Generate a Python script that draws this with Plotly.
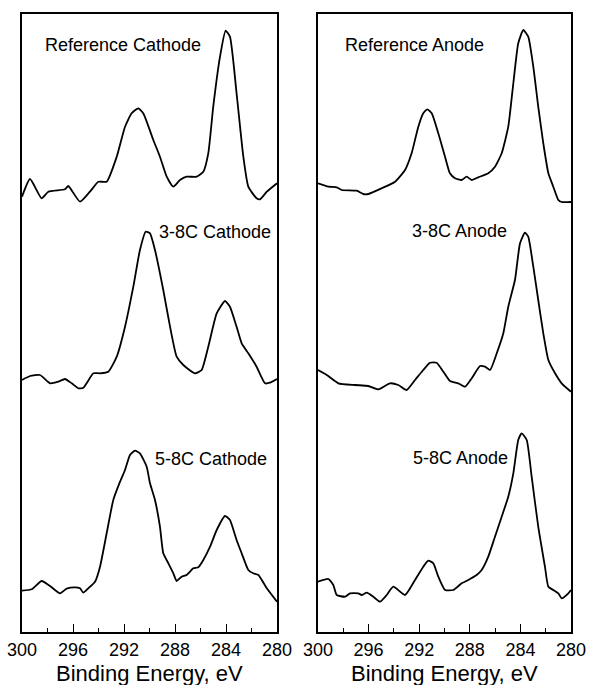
import plotly.graph_objects as go

# ---------------- data (binding energy in eV, intensity in arbitrary units) -------------
ref_cat_x = [300.0, 299.37, 298.46, 297.93, 296.63, 296.37, 295.45, 294.67, 294.01, 293.36,
             292.57, 291.92, 291.4, 290.88, 290.49, 289.7, 289.18, 288.65, 288.13, 287.61,
             287.09, 286.3, 285.78, 285.39, 285.0, 284.47, 284.03, 283.69, 283.17, 282.64,
             282.25, 281.6, 281.33, 280.8, 280.0]
ref_cat_y = [5.3, 23, 3.7, 10.3, 12.7, 16, 0.3, 10.3, 20.3, 20.3,
             45.3, 75.3, 88.7, 93.7, 88.7, 62, 45.3, 25.3, 15.3, 22,
             25.3, 25.3, 30.3, 48.7, 95.3, 145.3, 171.3, 165.3, 108.7, 45.3,
             15.3, 3.7, 2.7, 10.3, 18.7]

c38_cat_x = [300.0, 299.37, 298.59, 297.8, 297.15, 296.63, 296.1, 295.58, 295.19, 294.4,
             293.88, 293.23, 292.57, 291.92, 291.27, 290.75, 290.3, 289.96, 289.57, 288.92,
             288.39, 287.87, 287.35, 286.43, 285.91, 285.39, 284.73, 284.08, 283.69, 283.17,
             282.77, 282.25, 281.6, 280.94, 280.55, 280.0]
c38_cat_y = [12, 16, 17, 8.7, 10.3, 13, 8.7, 3.7, 4.3, 18.7,
             18.7, 20.3, 35.3, 65.3, 105.3, 142, 160.3, 158.7, 142, 102,
             65.3, 35.3, 27, 18.7, 22, 45.3, 78.7, 91, 85.3, 65.3,
             48.7, 38.7, 25.3, 8.7, 9.3, 13]

c58_cat_x = [300.0, 299.24, 298.46, 297.8, 297.02, 296.5, 295.84, 295.45, 295.19, 294.8,
             294.27, 293.88, 293.36, 292.84, 292.31, 291.92, 291.53, 291.14, 290.75, 290.22,
             289.96, 289.57, 289.18, 288.92, 288.52, 288.13, 287.87, 287.48, 287.09, 286.56,
             286.17, 285.78, 285.25, 284.73, 284.08, 283.69, 283.17, 282.77, 282.25, 281.86,
             281.46, 280.8, 280.0]
c58_cat_y = [11.3, 12.7, 21, 16, 8.7, 13.3, 14.7, 13.7, 9.3, 13.7,
             20.3, 35.3, 68.7, 102, 120.3, 132, 147, 151.3, 148.7, 135.3,
             118.7, 102, 75.3, 48.7, 38.7, 28.7, 21, 25.3, 27, 33.7,
             34.7, 42, 55.3, 72, 86, 82, 62, 48.7, 32, 28.7,
             27, 13.7, 0.3]

ref_an_x = [300.0, 299.18, 298.52, 298.13, 296.94, 296.42, 296.02, 294.97, 293.91, 293.12,
            292.6, 292.07, 291.68, 291.36, 291.01, 290.49, 289.96, 289.57, 289.17, 288.64,
            288.25, 287.85, 287.33, 286.54, 286.01, 285.48, 284.96, 284.56, 284.17, 283.77,
            283.38, 282.98, 282.59, 282.19, 281.79, 281.4, 281.0, 280.74, 280.0]
ref_an_y = [18.7, 15.3, 14.7, 12, 11.3, 8, 8, 13.7, 20.3, 32,
            48.7, 75.3, 88.7, 92.7, 88.7, 68.7, 45.3, 28.7, 23.7, 22,
            25.3, 22, 24.7, 28.7, 35.3, 48.7, 75.3, 118.7, 158.7, 172,
            165.3, 135.3, 95.3, 58.7, 28.7, 15.3, 2, 0, 0]

c38_an_x = [300.0, 299.31, 298.39, 297.08, 296.02, 295.23, 294.31, 293.65, 292.99, 292.33,
            291.68, 291.15, 290.62, 290.09, 289.57, 288.91, 288.38, 287.85, 287.19, 286.8,
            286.4, 285.87, 285.35, 284.96, 284.43, 284.03, 283.64, 283.38, 282.98, 282.59,
            282.19, 281.79, 281.26, 280.74, 280.0]
c38_an_y = [22, 17, 8.7, 7, 6, 2.7, 8.7, 7, 2, 12,
            22, 29.3, 29.3, 20.3, 11, 8.7, 5.3, 13.7, 26, 25.3,
            22, 38.7, 58.7, 85.3, 112, 148.7, 159.3, 155.3, 125.3, 92,
            58.7, 32, 18.7, 8.7, 0.3]

c58_an_x = [300.0, 299.18, 298.79, 298.52, 297.87, 297.47, 296.81, 296.55, 296.15, 295.63,
            295.1, 294.57, 294.05, 293.12, 292.33, 291.68, 291.28, 290.88, 290.49, 289.96,
            289.3, 288.64, 288.12, 287.46, 287.06, 286.54, 286.01, 285.48, 284.96, 284.56,
            284.17, 283.9, 283.5, 283.11, 282.59, 282.06, 281.79, 281.4, 281.0, 280.74,
            280.21, 280.0]
c58_an_y = [20.3, 23, 17, 7, 5.3, 8.7, 8.7, 7, 9.3, 5.3,
            0.3, 7, 15.3, 7, 22, 35.3, 41.3, 38.7, 25.3, 12,
            12, 18.7, 22, 27, 32, 45.3, 65.3, 85.3, 105.3, 128.7,
            162, 168.7, 162, 125.3, 75.3, 35.3, 15.3, 12, 8.7, 3.7,
            8.7, 12]

labels_cathode = ["Reference Cathode", "3-8C Cathode", "5-8C Cathode"]
labels_anode = ["Reference Anode", "3-8C Anode", "5-8C Anode"]
tick_vals = [300, 296, 292, 288, 284, 280]
tick_text = ["300", "296", "292", "288", "284", "280"]
x_title = "Binding Energy, eV"

# ---------------- layout constants -------------
offsets = [430, 240, 30]           # vertical stacking of the spectra
W, H = 590, 685
FONT = "Liberation Sans, Arial, Helvetica, sans-serif"
X1 = [22 / W, 277 / W]
X2 = [318 / W, 571 / W]

fig = go.Figure()

cathode = [(ref_cat_x, ref_cat_y), (c38_cat_x, c38_cat_y), (c58_cat_x, c58_cat_y)]
anode = [(ref_an_x, ref_an_y), (c38_an_x, c38_an_y), (c58_an_x, c58_an_y)]

for (xs, ys), off in zip(cathode, offsets):
    fig.add_trace(go.Scatter(x=xs, y=[v + off for v in ys], mode="lines",
                             line=dict(color="black", width=1.8, shape="spline", smoothing=0.5),
                             xaxis="x", yaxis="y", showlegend=False, hoverinfo="skip"))
for (xs, ys), off in zip(anode, offsets):
    fig.add_trace(go.Scatter(x=xs, y=[v + off for v in ys], mode="lines",
                             line=dict(color="black", width=1.8, shape="spline", smoothing=0.5),
                             xaxis="x2", yaxis="y2", showlegend=False, hoverinfo="skip"))

# label positions (eV, y)
cat_label_pos = [(292.1, 587), (284.85, 400), (285.2, 173)]
an_label_pos = [(292.4, 587), (288.8, 401), (288.75, 174)]
for txt, (lx, ly) in zip(labels_cathode, cat_label_pos):
    fig.add_annotation(x=lx, y=ly, xref="x", yref="y", text=txt, showarrow=False,
                       xanchor="center", font=dict(size=18, color="black", family=FONT))
for txt, (lx, ly) in zip(labels_anode, an_label_pos):
    fig.add_annotation(x=lx, y=ly, xref="x2", yref="y2", text=txt, showarrow=False,
                       xanchor="center", font=dict(size=18, color="black", family=FONT))

# x-axis titles, placed below the tick labels
for dom in (X1, X2):
    fig.add_annotation(x=(dom[0] + dom[1]) / 2, y=-41 / 618, xref="paper", yref="paper",
                       text=x_title, showarrow=False, xanchor="center", yanchor="middle",
                       font=dict(size=22, color="black", family=FONT))

xcommon = dict(range=[300, 280], tickvals=tick_vals, ticktext=tick_text,
               ticks="inside", ticklen=8, tickwidth=1.3, tickcolor="black",
               minor=dict(tickvals=[298, 294, 290, 286, 282], ticks="inside", ticklen=4,
                          tickwidth=1.3, tickcolor="black"),
               showline=True, linecolor="black", linewidth=1.5, mirror=True,
               showgrid=False, zeroline=False, automargin=False,
               tickfont=dict(size=18, color="black", family=FONT),
               ticklabelstandoff=1)
ycommon = dict(range=[0, 618], showticklabels=False, ticks="", showline=True,
               linecolor="black", linewidth=1.5, mirror=True, showgrid=False,
               zeroline=False, automargin=False)

fig.update_layout(
    width=W, height=H,
    margin=dict(l=0, r=0, t=14, b=53),
    paper_bgcolor="white", plot_bgcolor="white",
    xaxis=dict(domain=X1, anchor="y", **xcommon),
    xaxis2=dict(domain=X2, anchor="y2", **xcommon),
    yaxis=dict(domain=[0, 1], anchor="x", **ycommon),
    yaxis2=dict(domain=[0, 1], anchor="x2", **ycommon),
)

fig.write_html("out.html")
